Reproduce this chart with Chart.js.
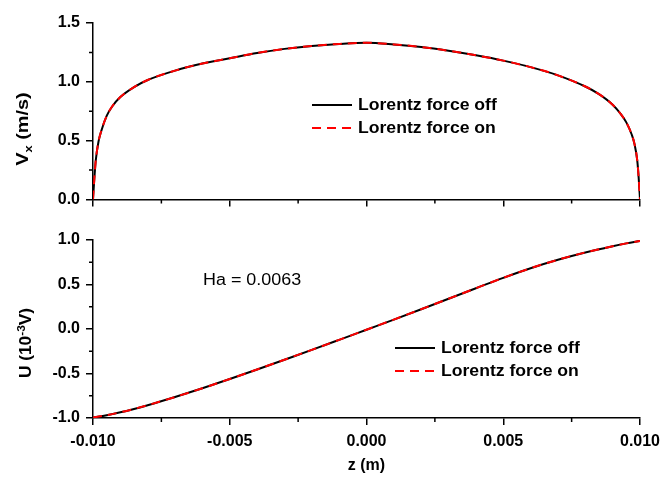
<!DOCTYPE html>
<html>
<head>
<meta charset="utf-8">
<script src="https://cdn.jsdelivr.net/npm/chart.js@4.4.1/dist/chart.umd.min.js"></script>
<style>
  body { margin: 0; background: #fff; }
  #wrap { position: relative; width: 663px; height: 477px; }
  #wrap canvas { position: absolute; left: 0; }
</style>
</head>
<body>
<div id="wrap">
  <canvas id="topPanel" width="663" height="215" style="top:0"></canvas>
  <canvas id="bottomPanel" width="663" height="262" style="top:215px"></canvas>
</div>
<script>
// --- data ---
const zTicks = [-0.010, -0.005, 0.000, 0.005, 0.010];
const vxTicks = [0.0, 0.5, 1.0, 1.5];
const uTicks = [-1.0, -0.5, 0.0, 0.5, 1.0];

// velocity profile (top panel)
const zVx = [-0.01, -0.00995, -0.0099, -0.0098, -0.0097, -0.0095, -0.0093, -0.009, -0.0085, -0.008,
  -0.007, -0.006, -0.005, -0.004, -0.003, -0.002, -0.001, 0, 0.001, 0.002, 0.003, 0.004, 0.005,
  0.006, 0.007, 0.008, 0.0085, 0.009, 0.0093, 0.0095, 0.0097, 0.0098, 0.0099, 0.00995, 0.01];
const vxOff = [0, 0.18, 0.33, 0.49, 0.58, 0.71, 0.79, 0.87, 0.955, 1.015,
  1.095, 1.155, 1.20, 1.245, 1.28, 1.305, 1.322, 1.332, 1.318, 1.296, 1.264, 1.225, 1.18,
  1.125, 1.055, 0.96, 0.895, 0.805, 0.725, 0.655, 0.55, 0.47, 0.33, 0.19, 0];
const vxOn = [0, 0.18, 0.33, 0.49, 0.58, 0.71, 0.79, 0.87, 0.955, 1.015,
  1.095, 1.155, 1.20, 1.245, 1.28, 1.305, 1.322, 1.332, 1.318, 1.296, 1.264, 1.225, 1.18,
  1.125, 1.055, 0.96, 0.895, 0.805, 0.725, 0.655, 0.55, 0.47, 0.33, 0.19, 0];

// potential (bottom panel), 10^-3 V
const zU = [-0.01, -0.0095, -0.009, -0.0085, -0.008, -0.007, -0.006, -0.005, -0.004, -0.003,
  -0.002, -0.001, 0, 0.001, 0.002, 0.003, 0.004, 0.005, 0.006, 0.007, 0.008, 0.009, 0.0095, 0.01];
const uOff = [-0.995, -0.968, -0.936, -0.898, -0.856, -0.764, -0.666, -0.562, -0.455, -0.345,
  -0.235, -0.122, -0.008, 0.106, 0.222, 0.34, 0.458, 0.575, 0.683, 0.778, 0.86, 0.93, 0.962, 0.99];
const uOn = [-0.995, -0.968, -0.936, -0.898, -0.856, -0.764, -0.666, -0.562, -0.455, -0.345,
  -0.235, -0.122, -0.008, 0.106, 0.222, 0.34, 0.458, 0.575, 0.683, 0.778, 0.86, 0.93, 0.962, 0.99];

const seriesNames = ['Lorentz force off', 'Lorentz force on'];
const noteText = 'Ha = 0.0063';

const FONT = '"Liberation Sans", Arial, sans-serif';

// text slightly widened, like the source figure
function wideText(ctx, text, x, y, sx) {
  ctx.save();
  ctx.translate(x, y);
  ctx.scale(sx, 1);
  ctx.fillText(text, 0, 0);
  ctx.restore();
}

// minor ticks, axis titles with sub/superscripts, in-plot legend and note
const panelDecor = {
  id: 'panelDecor',
  afterDraw(chart, args, opts) {
    const ctx = chart.ctx;
    const area = chart.chartArea;
    const xs = chart.scales.x, ys = chart.scales.y;
    ctx.save();
    ctx.strokeStyle = '#000';
    ctx.lineWidth = 1.5;
    ctx.beginPath();
    for (let i = 0; i < xs.ticks.length - 1; i++) {
      const px = xs.getPixelForValue((xs.ticks[i].value + xs.ticks[i + 1].value) / 2);
      ctx.moveTo(px, area.bottom);
      ctx.lineTo(px, area.bottom + 4);
    }
    for (let i = 0; i < ys.ticks.length - 1; i++) {
      const py = ys.getPixelForValue((ys.ticks[i].value + ys.ticks[i + 1].value) / 2);
      ctx.moveTo(area.left, py);
      ctx.lineTo(area.left - 4, py);
    }
    ctx.stroke();

    // rotated y title
    const t = opts.title;
    let total = 0;
    t.parts.forEach(p => {
      ctx.font = `bold ${p.size}px ${FONT}`;
      p.w = ctx.measureText(p.text).width;
      total += p.w;
    });
    ctx.save();
    ctx.translate(t.x, t.y);
    ctx.rotate(-Math.PI / 2);
    ctx.scale(t.sx, 1);
    ctx.fillStyle = '#000';
    ctx.textBaseline = 'alphabetic';
    let cx = -total / 2;
    t.parts.forEach(p => {
      ctx.font = `bold ${p.size}px ${FONT}`;
      ctx.fillText(p.text, cx, 6 + (p.dy || 0));
      cx += p.w;
    });
    ctx.restore();

    // legend
    const lg = opts.legend;
    chart.data.datasets.forEach((ds, i) => {
      const y = lg.y + i * lg.gap;
      ctx.beginPath();
      ctx.strokeStyle = ds.borderColor;
      ctx.lineWidth = 2;
      ctx.setLineDash(ds.borderDash || []);
      ctx.moveTo(lg.x, y);
      ctx.lineTo(lg.x + 40, y);
      ctx.stroke();
      ctx.setLineDash([]);
      ctx.font = `bold 16px ${FONT}`;
      ctx.fillStyle = '#000';
      ctx.textBaseline = 'middle';
      wideText(ctx, ds.label, lg.x + 46, y + 1, 1.1);
    });

    if (opts.note) {
      ctx.font = `16px ${FONT}`;
      ctx.fillStyle = '#000';
      ctx.textBaseline = 'middle';
      wideText(ctx, opts.note.text, opts.note.x, opts.note.y, 1.12);
    }
    ctx.restore();
  }
};

function makeDatasets(zs, off, on) {
  return [
    { label: seriesNames[0], data: zs.map((z, i) => ({ x: z, y: off[i] })),
      borderColor: '#000', borderWidth: 2, order: 2 },
    { label: seriesNames[1], data: zs.map((z, i) => ({ x: z, y: on[i] })),
      borderColor: '#ff0000', borderWidth: 2, borderDash: [9, 6], order: 1 }
  ];
}

function axisX(showLabels) {
  return {
    type: 'linear', min: -0.01, max: 0.01,
    afterBuildTicks: s => { s.ticks = zTicks.map(v => ({ value: v })); },
    afterFit: s => {
      s.height = showLabels ? 59 : 15;
      s.paddingLeft = 0;
      s.paddingRight = 0;
    },
    ticks: {
      display: showLabels, color: '#000', padding: 7,
      font: { family: FONT, size: 16, weight: 'bold' },
      callback: v => v.toFixed(3)
    },
    grid: { display: true, drawOnChartArea: false, tickLength: 7, color: '#000', lineWidth: 1.5 },
    border: { display: true, color: '#000', width: 1.5 },
    title: {
      display: showLabels, text: 'z (m)', color: '#000',
      font: { family: FONT, size: 16, weight: 'bold' }, padding: { top: 2, bottom: 2 }
    }
  };
}

function axisY(min, max, tickVals) {
  return {
    min: min, max: max,
    afterBuildTicks: s => { s.ticks = tickVals.map(v => ({ value: v })); },
    afterFit: s => { s.width = 93; },
    ticks: {
      color: '#000', padding: 6,
      font: { family: FONT, size: 16, weight: 'bold' },
      callback: v => v.toFixed(1)
    },
    grid: { display: true, drawOnChartArea: false, tickLength: 7, color: '#000', lineWidth: 1.5 },
    border: { display: true, color: '#000', width: 1.5 }
  };
}

const common = {
  responsive: false,
  animation: false,
  devicePixelRatio: 1,
  elements: { point: { radius: 0 }, line: { cubicInterpolationMode: 'monotone', fill: false } }
};

new Chart(document.getElementById('topPanel'), {
  type: 'line',
  data: { datasets: makeDatasets(zVx, vxOff, vxOn) },
  options: Object.assign({}, common, {
    layout: { padding: { top: 23, right: 23, left: 0, bottom: 0 } },
    scales: { x: axisX(false), y: axisY(0, 1.5, vxTicks) },
    plugins: {
      legend: { display: false }, tooltip: { enabled: false },
      panelDecor: {
        title: { x: 22, y: 129, sx: 1.17,
          parts: [{ text: 'V', size: 17 }, { text: 'x', size: 11, dy: 4 }, { text: ' (m/s)', size: 17 }] },
        legend: { x: 312, y: 105, gap: 23 }
      }
    }
  }),
  plugins: [panelDecor]
});

new Chart(document.getElementById('bottomPanel'), {
  type: 'line',
  data: { datasets: makeDatasets(zU, uOff, uOn) },
  options: Object.assign({}, common, {
    layout: { padding: { top: 25, right: 23, left: 0, bottom: 0 } },
    scales: { x: axisX(true), y: axisY(-1, 1, uTicks) },
    plugins: {
      legend: { display: false }, tooltip: { enabled: false },
      panelDecor: {
        title: { x: 25, y: 128, sx: 1.08,
          parts: [{ text: 'U (10', size: 16 }, { text: '-3', size: 11, dy: -6 }, { text: 'V)', size: 16 }] },
        legend: { x: 395, y: 133, gap: 23 },
        note: { text: noteText, x: 203, y: 66 }
      }
    }
  }),
  plugins: [panelDecor]
});
</script>
</body>
</html>
